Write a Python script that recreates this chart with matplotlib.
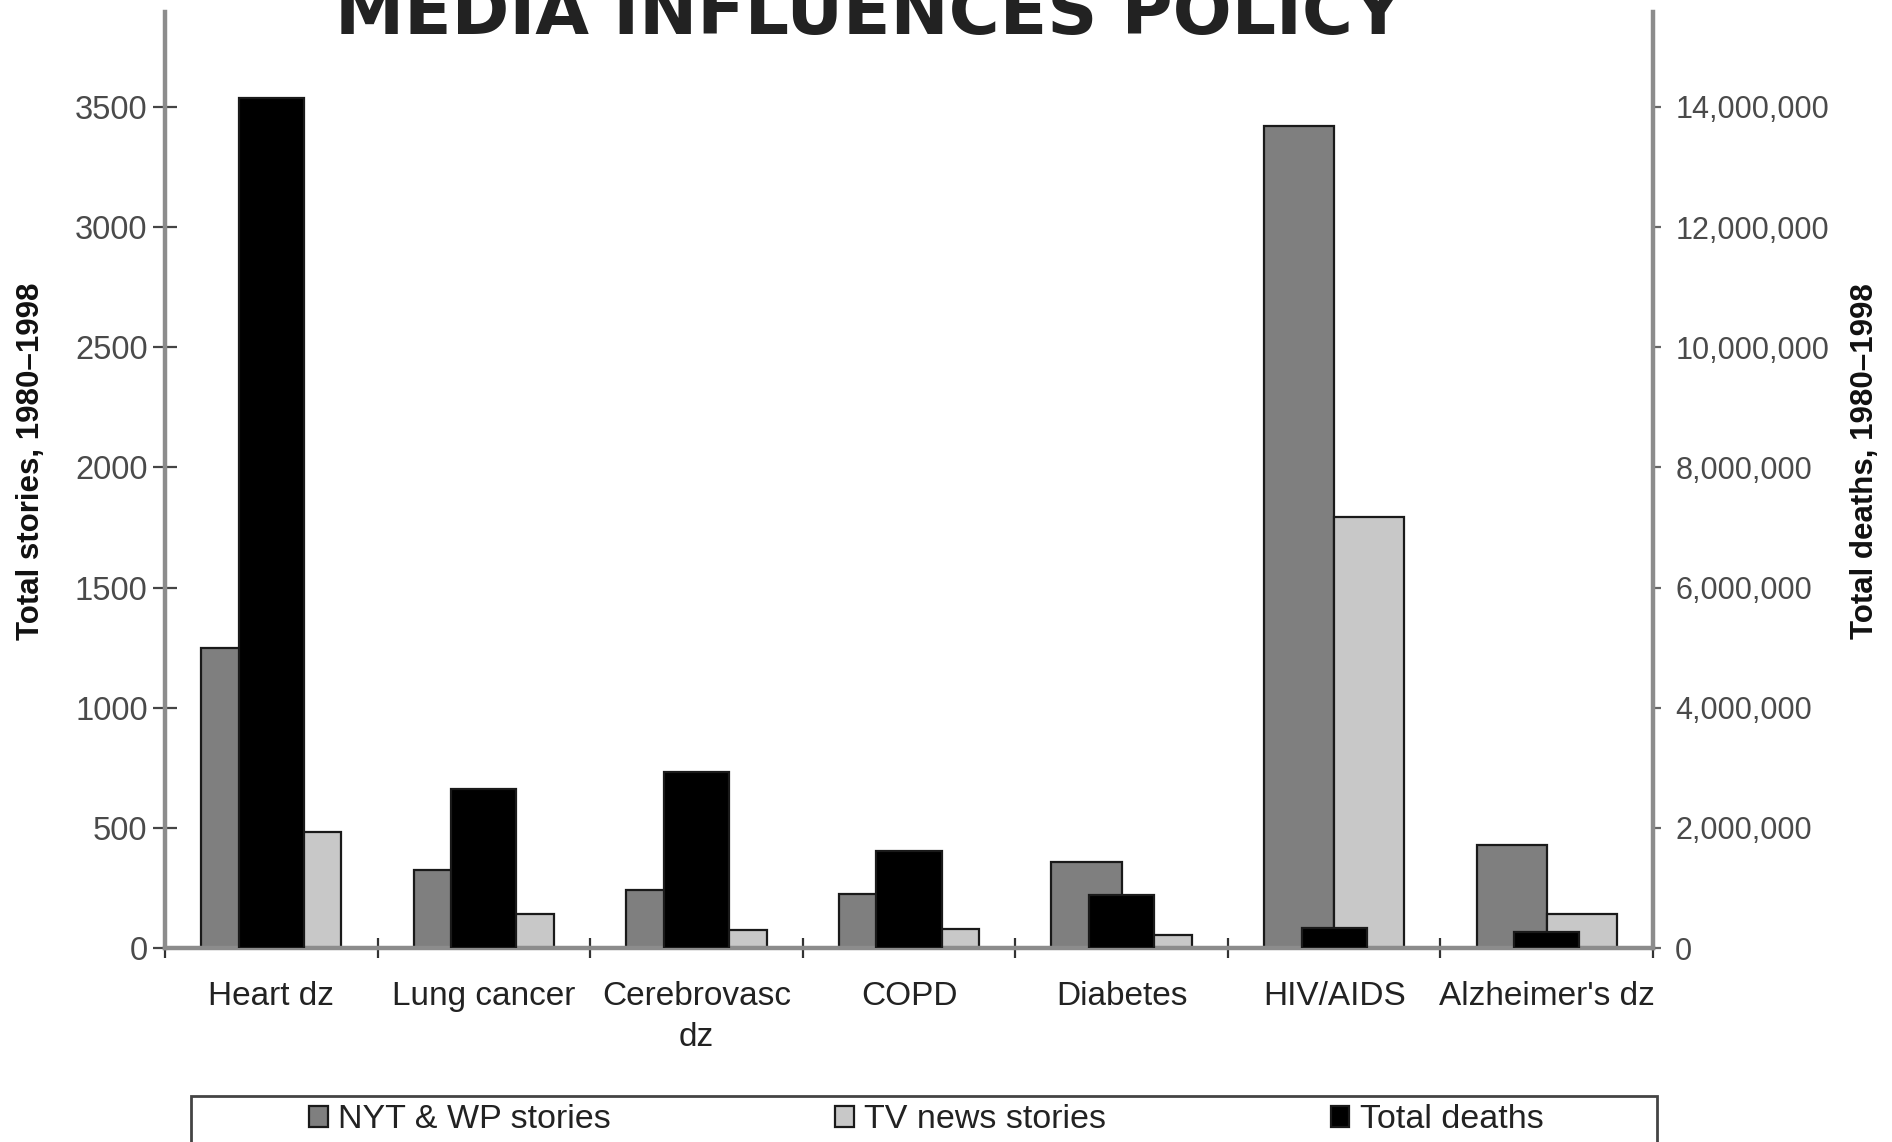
import numpy as np
import matplotlib.pyplot as plt
import matplotlib.patches as mpatches
from matplotlib.ticker import FuncFormatter

# ..............................................................................
categories = ["Heart dz", "Lung cancer", "Cerebrovasc\ndz", "COPD",
              "Diabetes", "HIV/AIDS", "Alzheimer's dz"]
nytWP = [1250, 326, 241, 226, 356, 3420, 427]
tvNews = [482, 140, 75, 80, 55, 1792, 140]
totalDeaths = [14150000, 2650000, 2930000, 1610000, 880000, 340000, 260000]

leftTicks = [0, 500, 1000, 1500, 2000, 2500, 3000, 3500]
rightTicks = [0, 2000000, 4000000, 6000000, 8000000, 10000000, 12000000, 14000000]

# ..............................................................................
W, H = 1892, 1142
plt.rcParams['font.family'] = ['Liberation Sans', 'DejaVu Sans']

fig = plt.figure(figsize=(W / 100, H / 100), dpi=100)
axL, axR, axB, axT = 165, 1653, 948, 12
ax = fig.add_axes([axL / W, 1 - axB / H, (axR - axL) / W, (axB - axT) / H])
ax2 = ax.twinx()

x = np.arange(len(categories))
bw = 0.33
edge = "#1a1a1a"
b1 = ax.bar(x - bw / 2, nytWP, bw, color="#7f7f7f", edgecolor=edge, linewidth=1.6, zorder=2)
b2 = ax.bar(x + bw / 2, tvNews, bw, color="#c8c8c8", edgecolor=edge, linewidth=1.6, zorder=2)
b3 = ax2.bar(x, totalDeaths, 0.307, color="black", edgecolor=edge, linewidth=1.6, zorder=3)

ytop = 3895
ax.set_ylim(0, ytop)
ax2.set_ylim(0, ytop * 4000)
ax.set_xlim(-0.5, len(categories) - 0.5)

# ..............................................................................
spineCol = "#8c8c8c"
for a in (ax, ax2):
    a.spines["top"].set_visible(False)
    for s in ("left", "right", "bottom"):
        a.spines[s].set_color(spineCol)
        a.spines[s].set_linewidth(3.2)
ax.spines["right"].set_visible(False)
ax2.spines["left"].set_visible(False)
ax2.spines["bottom"].set_visible(False)

ax.set_yticks(leftTicks)
ax.tick_params(axis="y", direction="inout", length=17, width=1.6, color="#444444",
               labelsize=23.5, labelcolor="#4a4a4a", pad=4)
ax2.set_yticks(rightTicks)
ax2.yaxis.set_major_formatter(FuncFormatter(lambda v, p: f"{int(v):,}"))
ax2.tick_params(axis="y", direction="out", length=6, width=1.6, color="#666666",
                labelsize=22, labelcolor="#4a4a4a", pad=10)

ax.set_xticks(x)
ax.set_xticklabels(categories, fontsize=24, color="#222222", linespacing=1.4)
ax.set_xticks(np.arange(len(categories) + 1) - 0.5, minor=True)
ax.tick_params(axis="x", which="major", length=0, pad=24)
ax.tick_params(axis="x", which="minor", direction="inout", length=14, width=1.6, color="#333333")

ax.set_ylabel("Total stories, 1980–1998", fontsize=22.5, fontweight="bold", color="#111111")
ax.yaxis.set_label_coords((46 - axL) / (axR - axL), 0.52)
ax2.set_ylabel("Total deaths, 1980–1998", fontsize=22.5, fontweight="bold", color="#111111",
               rotation=90)
ax2.yaxis.set_label_coords((1850 - axL) / (axR - axL), 0.52)

# title (cropped at the top of the image, as in the source)
fig.text(869 / W, 1 - 34 / H, "MEDIA INFLUENCES POLICY", ha="center", va="baseline",
         fontsize=50, fontweight="bold", color="#222222", family=["DejaVu Sans"])

# legend box running off the bottom
fig.patches.append(mpatches.Rectangle((191 / W, -0.05), (1657 - 191) / W, 0.05 + (H - 1096) / H,
                                      transform=fig.transFigure, fill=False,
                                      edgecolor="#444444", linewidth=2))
fig.legend([b1, b2, b3], ["NYT & WP stories", "TV news stories", "Total deaths"],
           loc="center left", bbox_to_anchor=(292 / W, 1 - 1120 / H), ncol=3,
           frameon=False, fontsize=24.5, handlelength=0.55, handleheight=0.6,
           handletextpad=0.3, columnspacing=6.6, borderpad=0, labelcolor="#222222")

fig.savefig("out.png", dpi=100)
